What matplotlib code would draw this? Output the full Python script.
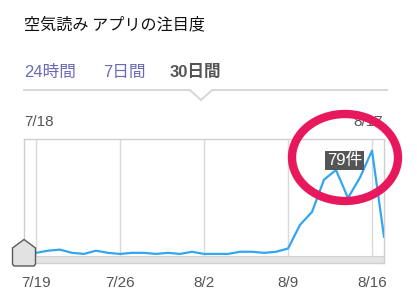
import matplotlib
matplotlib.use("Agg")
import matplotlib.pyplot as plt
from matplotlib.patches import Ellipse, Polygon
import numpy as np

plt.rcParams['font.family'] = ['Liberation Sans', 'Noto Sans CJK JP', 'DejaVu Sans']

# Daily mention counts, 7/18 .. 8/17
dates = ['7/18', '7/19', '7/20', '7/21', '7/22', '7/23', '7/24', '7/25', '7/26',
         '7/27', '7/28', '7/29', '7/30', '7/31', '8/1', '8/2', '8/3', '8/4', '8/5',
         '8/6', '8/7', '8/8', '8/9', '8/10', '8/11', '8/12', '8/13', '8/14', '8/15',
         '8/16', '8/17']
counts = [2, 2, 4, 5, 2, 1, 4, 2, 1, 2, 2, 1, 2, 1, 3, 1, 1, 1, 3, 3, 2, 3,
          6, 28, 40, 70, 79, 53, 72, 97, 17]
tick_labels = ['7/19', '7/26', '8/2', '8/9', '8/16']
highlight_date = '8/13'
title = '空気読み アプリの注目度'
tabs = ['24時間', '7日間', '30日間']

W, H = 417, 308
fig = plt.figure(figsize=(W / 100, H / 100), dpi=100)
fig.patch.set_facecolor('white')

# chart axes: x spans 7/18..8/17, 12 px per day
left_px, right_px, top_px, bot_px = 24, 384, 139, 263
ax = fig.add_axes([left_px / W, 1 - bot_px / H, (right_px - left_px) / W,
                   (bot_px - top_px) / H], zorder=1)
ax.patch.set_alpha(0)
x = np.arange(len(dates))
px_per_unit = 85 / 79
ax.set_xlim(0, len(dates) - 1)
ax.set_ylim(-8 / px_per_unit, 116 / px_per_unit)
ax.set_xticks([])
ax.set_yticks([])
for s in ax.spines.values():
    s.set_color('#cfcfcf')
    s.set_linewidth(1)

# bottom scrollbar strip
ax.axhspan(-8 / px_per_unit, -0.6, color='#e4e4e4', zorder=1, lw=0)
ax.axhline(-0.6, color='#d0d0d0', lw=0.8, zorder=1)

for t in tick_labels:
    xi = dates.index(t)
    ax.axvline(xi, color='#dadada', lw=1, zorder=0.5)
    ax.text(xi, -0.165, t, transform=ax.get_xaxis_transform(), ha='center',
            va='center', fontsize=11, color='#555555')

ax.plot(x, counts, color='#33a6f0', lw=1.6, zorder=3, solid_joinstyle='round')

# value tooltip
hi = dates.index(highlight_date)
ax.annotate(f'{counts[hi]}件', (hi, counts[hi]), xytext=(6, 7),
            textcoords='offset points', ha='center', va='center',
            fontsize=12, color='white', zorder=5,
            bbox=dict(boxstyle='square,pad=0.12', fc='#555555', ec='none'))

# overlay axes in pixel coordinates for page furniture
ov = fig.add_axes([0, 0, 1, 1], zorder=2)
ov.set_xlim(0, W)
ov.set_ylim(H, 0)
ov.axis('off')
ov.patch.set_alpha(0)

# range labels above the chart
ov.text(24, 122, dates[0], ha='left', va='center', fontsize=11, color='#555555')
ov.text(383, 122, dates[-1], ha='right', va='center', fontsize=11, color='#555555')

# title and tabs
ov.text(24, 25, title, ha='left', va='center', fontsize=11.6, color='#111111',
        family=['Noto Sans CJK JP', 'DejaVu Sans'])
ov.text(24, 72, tabs[0], ha='left', va='center', fontsize=12, color='#6a6ab8')
ov.text(103, 72, tabs[1], ha='left', va='center', fontsize=12, color='#6a6ab8')
ov.text(170, 72, tabs[2], ha='left', va='center', fontsize=12, color='#555555',
        fontweight='bold')

# separator with notch
ov.plot([24, 190, 201, 212, 387], [90, 90, 100, 90, 90], color='#d6d6d6',
        lw=1.4, solid_joinstyle='miter')

# range handle at the left end
handle = Polygon([(12.5, 248), (24, 239.5), (35.5, 248), (35.5, 264),
                  (34, 266), (14, 266), (12.5, 264)], closed=True,
                 fc='#e2e2e2', ec='#5a5a5a', lw=1, zorder=4)
ov.add_patch(handle)

# highlight ring
ring = Ellipse((345, 157.5), 106, 87, fill=False, ec='#e8185c', lw=6, zorder=6)
ov.add_patch(ring)

fig.savefig('out.png', dpi=100, facecolor='white')
